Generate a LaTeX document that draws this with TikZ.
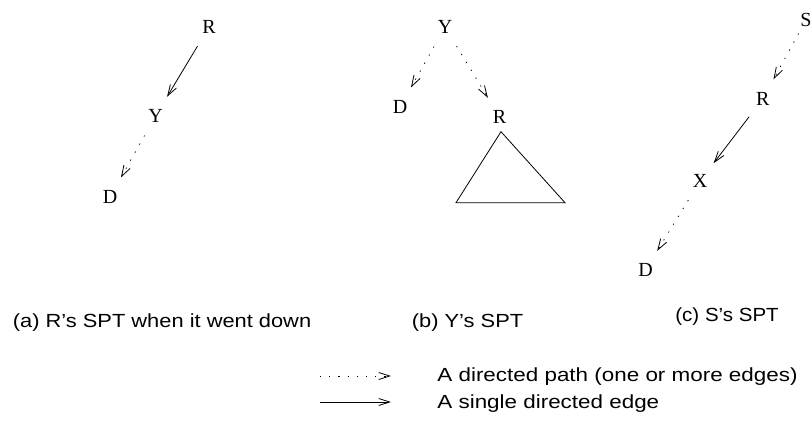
\documentclass[tikz,border=0pt]{standalone}
\usepackage{fontspec}
\setmainfont{Liberation Serif}
\newfontfamily\capfont{Liberation Sans}
\usetikzlibrary{arrows.meta}
\newcommand{\wtext}[2][1.15]{\scalebox{#1}[1]{#2}}

\begin{document}
\begin{tikzpicture}[x=1pt, y=-1pt, line width=0.8pt,
    >={Straight Barb[length=11pt,width=7pt]},
    vertex/.style={circle, inner sep=0pt, minimum size=44pt, font=\fontsize{20}{20}\selectfont},
    single/.style={->},
    dpath/.style={->, dash pattern=on 1.2pt off 8pt},
    caption/.style={anchor=base west, inner sep=0pt, font=\fontsize{19}{19}\capfont}]
    \useasboundingbox (0,0) rectangle (812,423);

    % (a) R's SPT
    \node[vertex] (aR) at (209,27) {R};
    \node[vertex] (aY) at (155.5,116) {Y};
    \node[vertex] (aD) at (110,197) {D};

    % (b) Y's SPT
    \node[vertex] (bY) at (445,27) {Y};
    \node[vertex] (bD) at (400,107) {D};
    \node[vertex] (bR) at (499.5,117) {R};
    \coordinate (tTop) at (501,131.7);
    \coordinate (tLeft) at (456,202.7);
    \coordinate (tRight) at (565,202.7);

    % (c) S's SPT
    \node[vertex] (cS) at (806,20) {S};
    \node[vertex] (cR) at (762.7,99) {R};
    \node[vertex] (cX) at (700,181) {X};
    \node[vertex] (cD) at (645.5,270) {D};

    \draw (aR) edge[single] (aY);
    \draw (aY) edge[dpath] (aD);
    \draw (bY) edge[dpath] (bD) edge[dpath] (bR);
    \draw (tTop) -- (tLeft) -- (tRight) -- cycle;
    \draw (cS) edge[dpath, shorten <=-7pt] (cR);
    \draw (cR) edge[single] (cX);
    \draw (cX) edge[dpath] (cD);

    \node[caption] (capA) at (12.5,327) {\wtext{(a) R’s SPT when it went down}};
    \node[caption] (capB) at (411.5,327.5) {\wtext{(b) Y’s SPT}};
    \node[caption] (capC) at (675,321) {\wtext[1.08]{(c) S’s SPT}};

    % legend
    \coordinate (dotA) at (320,376);
    \coordinate (dotB) at (391,376);
    \coordinate (lineA) at (320,402);
    \coordinate (lineB) at (391,402);
    \draw (dotA) edge[dpath] (dotB);
    \draw (lineA) edge[single] (lineB);
    \node[caption] (legPath) at (437,381) {\wtext[1.18]{A directed path (one or more edges)}};
    \node[caption] (legEdge) at (437,408) {\wtext[1.18]{A single directed edge}};
\end{tikzpicture}
\end{document}
